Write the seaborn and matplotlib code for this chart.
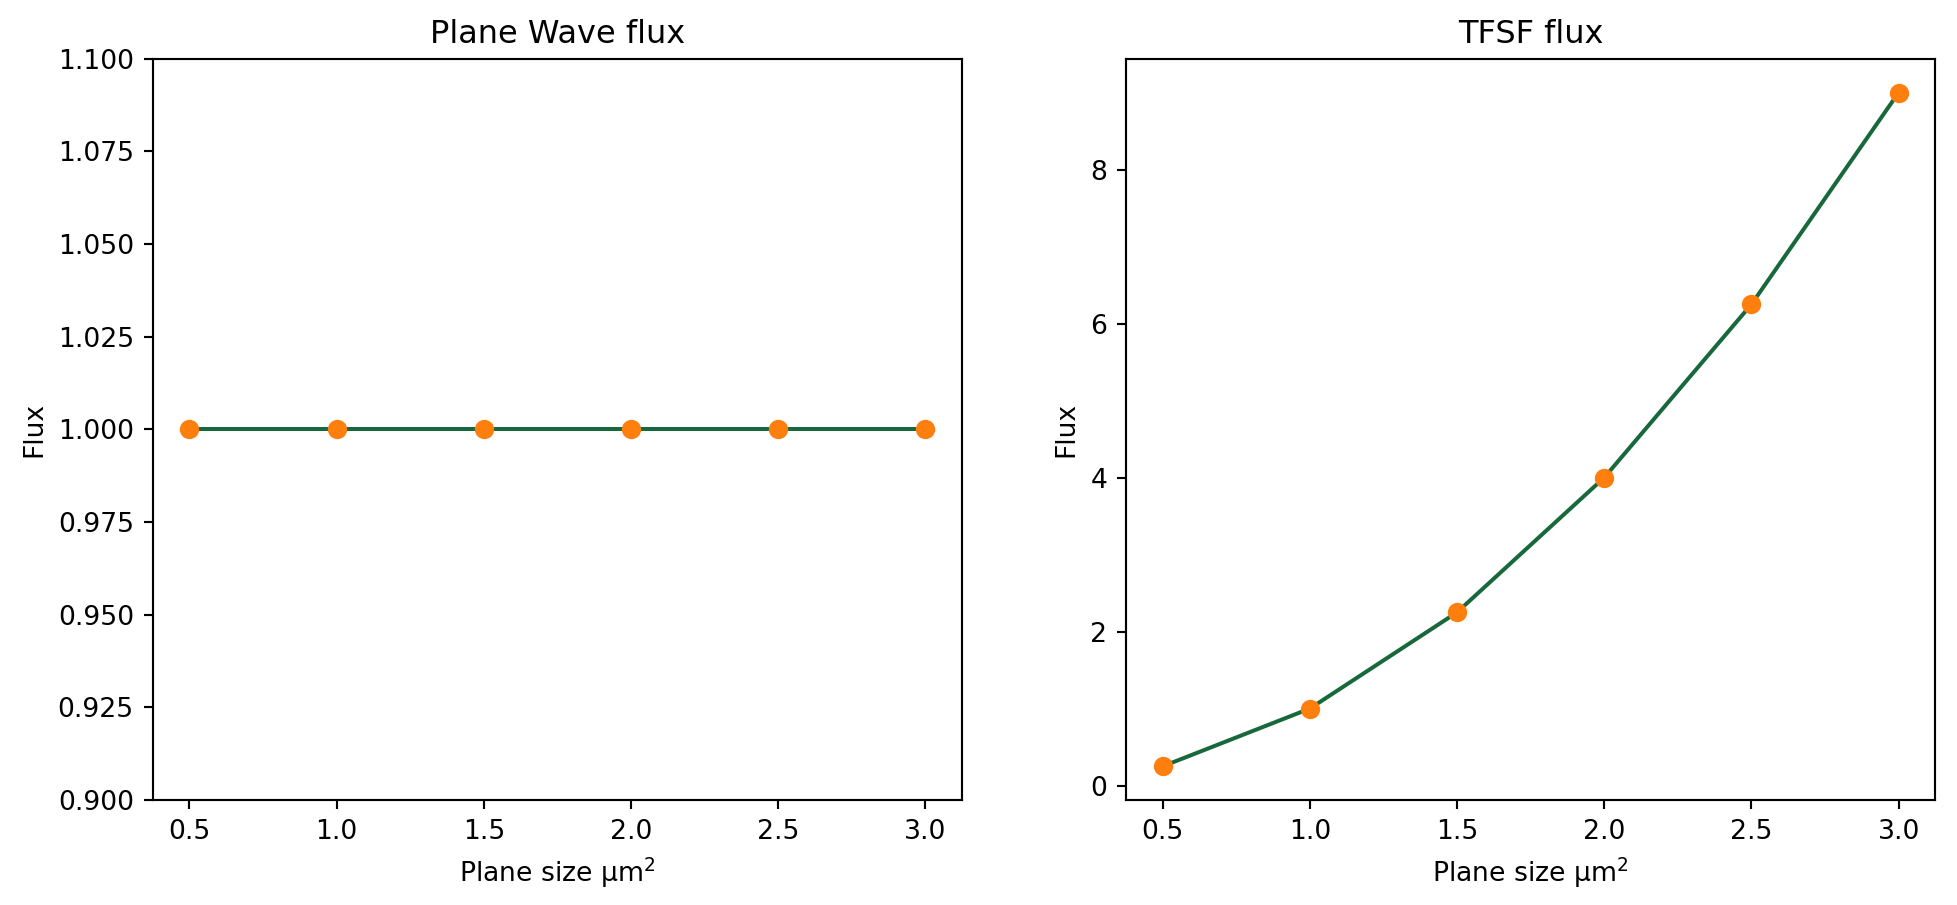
import numpy as np
import matplotlib.pyplot as plt
import seaborn as sns

plane_sizes = [0.5, 1.0, 1.5, 2.0, 2.5, 3.0]
plane_wave_flux = [1.0, 1.0, 1.0, 1.0, 1.0, 1.0]
tfsf_flux = [0.25, 1.0, 2.25, 4.0, 6.25, 9.0]

line_color = '#17683a'
dot_color = '#ff7f0e'

fig, axes = plt.subplots(1, 2, figsize=(1957 / 192, 905 / 192), dpi=192)

panels = [('Plane Wave flux', plane_wave_flux), ('TFSF flux', tfsf_flux)]
for ax, (title, flux) in zip(axes, panels):
    sns.lineplot(x=plane_sizes, y=flux, color=line_color, linewidth=1.5, ax=ax)
    sns.lineplot(x=plane_sizes, y=flux, color=dot_color, marker='o', markersize=6.5,
                 markeredgecolor=dot_color, linestyle='', ax=ax)
    ax.set_title(title)
    ax.set_xlabel(r'Plane size $\mathrm{\mu m^2}$')
    ax.set_ylabel('Flux')

# flat series: matplotlib would pad +-10%
axes[0].set_ylim(0.9, 1.1)

plt.subplots_adjust(left=0.078, right=0.989, bottom=0.116, top=0.935, wspace=0.202)
plt.savefig('out.png', dpi=192)
